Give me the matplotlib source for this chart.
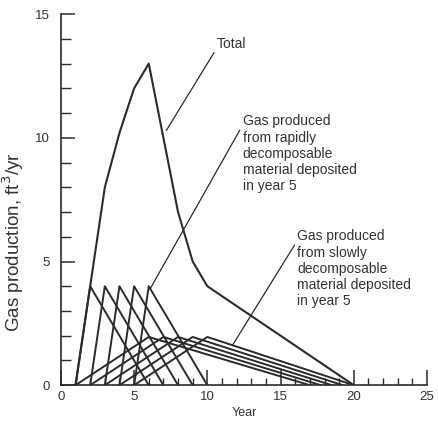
import matplotlib
matplotlib.use("Agg")
import matplotlib.pyplot as plt
from matplotlib.ticker import MultipleLocator

plt.rcParams["font.family"] = ["Liberation Sans", "DejaVu Sans"]

# total gas production
total_years = [1, 2, 3, 4, 5, 6, 7, 8, 9, 10, 20]
total_rates = [0, 4, 8, 10.2, 12, 13, 10, 7, 5, 4, 0]

# rapidly decomposable material, one triangle per deposit year
rapid_years = [
    [1, 2, 6],
    [2, 3, 7],
    [3, 4, 8],
    [4, 5, 9],
    [5, 6, 10],
]
rapid_rates = [0, 4, 0]

# slowly decomposable material, one triangle per deposit year
slow_years = [
    [1, 6, 17],
    [2, 7, 17.75],
    [3, 8, 18.5],
    [4, 9, 19.25],
    [5, 10, 20],
]
slow_rates = [0, 1.95, 0]

LINE = "#2b2b2b"
TEXT = "#333333"

fig = plt.figure(figsize=(4.38, 4.28), dpi=100)
ax = fig.add_axes([0.139, 0.1, 0.836, 0.867])

for xs in slow_years:
    ax.plot(xs, slow_rates, color=LINE, lw=1.4)

for xs in rapid_years:
    ax.plot(xs, rapid_rates, color=LINE, lw=1.4)

ax.plot(total_years, total_rates, color=LINE, lw=1.5)

# labels with leader lines
ax.annotate(
    "Total",
    xy=(7.2, 10.3),
    xytext=(10.65, 13.8),
    fontsize=10,
    color=TEXT,
    va="center",
    ha="left",
    arrowprops=dict(arrowstyle="-", color=LINE, lw=0.9, shrinkA=0, shrinkB=0,
                    relpos=(0, 0.2)),
)
ax.annotate(
    "Gas produced\nfrom rapidly\ndecomposable\nmaterial deposited\nin year 5",
    xy=(6.1, 3.9),
    xytext=(12.4, 10.95),
    fontsize=10,
    color=TEXT,
    va="top",
    ha="left",
    linespacing=1.2,
    arrowprops=dict(arrowstyle="-", color=LINE, lw=0.9, shrinkA=0, shrinkB=0,
                    relpos=(0, 0.86)),
)
ax.annotate(
    "Gas produced\nfrom slowly\ndecomposable\nmaterial deposited\nin year 5",
    xy=(11.7, 1.6),
    xytext=(16.15, 6.3),
    fontsize=10,
    color=TEXT,
    va="top",
    ha="left",
    linespacing=1.2,
    arrowprops=dict(arrowstyle="-", color=LINE, lw=0.9, shrinkA=0, shrinkB=0,
                    relpos=(0, 0.86)),
)

ax.set_xlim(0, 25)
ax.set_ylim(0, 15)
ax.xaxis.set_major_locator(MultipleLocator(5))
ax.xaxis.set_minor_locator(MultipleLocator(1))
ax.yaxis.set_major_locator(MultipleLocator(5))
ax.yaxis.set_minor_locator(MultipleLocator(1))

ax.spines["top"].set_visible(False)
ax.spines["right"].set_visible(False)
for side in ("left", "bottom"):
    ax.spines[side].set_color(LINE)
    ax.spines[side].set_linewidth(1.2)

ax.tick_params(axis="x", which="major", direction="in", length=11,
               width=1.1, color=LINE, labelsize=9.5, labelcolor=TEXT, pad=4)
ax.tick_params(axis="x", which="minor", direction="in", length=5,
               width=1.0, color=LINE)
ax.tick_params(axis="y", which="major", direction="in", length=10,
               width=1.1, color=LINE, labelsize=9.5, labelcolor=TEXT, pad=8)
ax.tick_params(axis="y", which="minor", direction="in", length=7,
               width=1.0, color=LINE)

ax.set_xlabel("Year", fontsize=9, color=TEXT, labelpad=3)
ax.set_ylabel("Gas production, ft$^3$/yr", fontsize=13.5, color=TEXT)
ax.yaxis.set_label_coords(-0.095, 0.385)

fig.savefig("out.png", dpi=100, facecolor="white")
